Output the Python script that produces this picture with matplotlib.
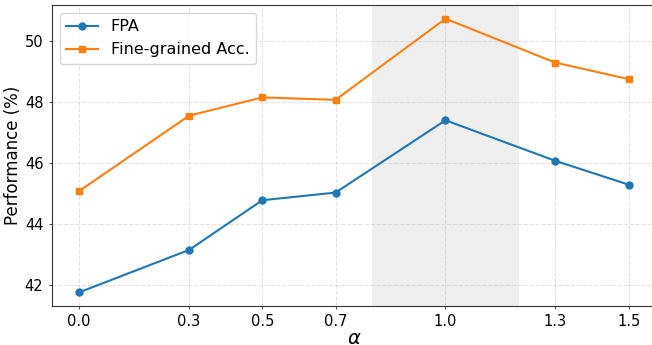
import matplotlib as mpl
mpl.use('Agg')
import matplotlib.pyplot as plt

alphas = [0.0, 0.3, 0.5, 0.7, 1.0, 1.3, 1.5]
fpa = [41.77, 43.16, 44.79, 45.04, 47.41, 46.08, 45.30]
fine_acc = [45.09, 47.56, 48.16, 48.08, 50.74, 49.30, 48.76]
x_tick_labels = ['0.0', '0.3', '0.5', '0.7', '1.0', '1.3', '1.5']
y_ticks = [42, 44, 46, 48, 50]
span_lo, span_hi = 0.8, 1.2

fig = plt.figure(figsize=(6.52, 3.45), dpi=100)
ax = fig.add_axes([0.0793, 0.113, 0.927, 0.8725])

ax.axvspan(span_lo, span_hi, color='lightgray', alpha=0.35, lw=0, zorder=0)
ax.plot(alphas, fpa, marker='o', markersize=5, lw=1.5, color='#1f77b4', label='FPA')
ax.plot(alphas, fine_acc, marker='s', markersize=5, lw=1.5, color='#ff7f0e',
        label='Fine-grained Acc.')

ax.set_xticks(alphas)
ax.set_xticklabels(x_tick_labels)
ax.set_yticks(y_ticks)
ax.tick_params(labelsize=10.5, length=2.5, pad=3.5, color='#555555')
for side in ['left', 'bottom', 'top']:
    ax.spines[side].set_color('#333333')
ax.grid(True, linestyle='--', alpha=0.35)
ax.set_xlabel(r'$\alpha$', fontsize=14, labelpad=0)
ax.set_ylabel('Performance (%)', fontsize=12, labelpad=2)
ax.legend(loc='upper left', fontsize=11.5)

fig.savefig('out.png', dpi=100)
plt.close(fig)
